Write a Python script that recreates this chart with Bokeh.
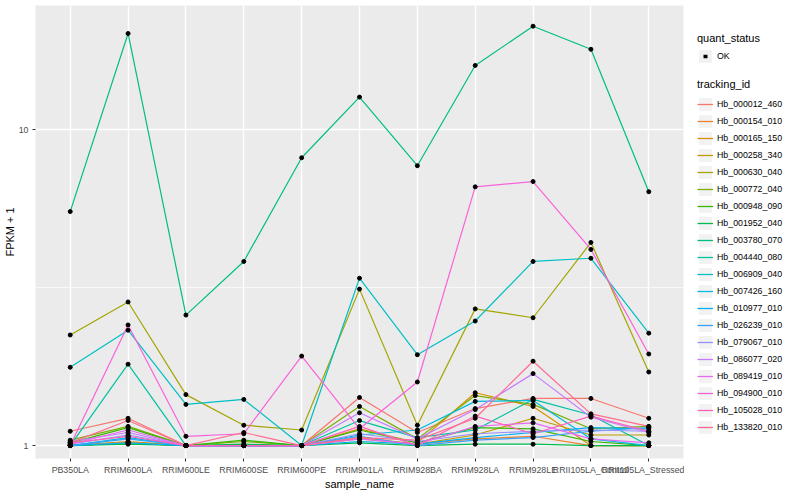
from bokeh.plotting import figure
from bokeh.layouts import row
from bokeh.models import (FactorRange, Range1d, FixedTicker, PrintfTickFormatter,
                          Legend, LegendItem, ColumnDataSource)
from bokeh.embed import file_html
from bokeh.resources import INLINE

samples = ["PB350LA", "RRIM600LA", "RRIM600LE", "RRIM600SE", "RRIM600PE",
           "RRIM901LA", "RRIM928BA", "RRIM928LA", "RRIM928LE",
           "RRII105LA_Control", "RRII105LA_Stressed"]

tracking_ids = ["Hb_000012_460", "Hb_000154_010", "Hb_000165_150", "Hb_000258_340",
                "Hb_000630_040", "Hb_000772_040", "Hb_000948_090", "Hb_001952_040",
                "Hb_003780_070", "Hb_004440_080", "Hb_006909_040", "Hb_007426_160",
                "Hb_010977_010", "Hb_026239_010", "Hb_079067_010", "Hb_086077_020",
                "Hb_089419_010", "Hb_094900_010", "Hb_105028_010", "Hb_133820_010"]

# FPKM + 1 per sample (same order as samples)
hb_000012_460 = [1.11, 1.22, 1.00, 1.00, 1.00, 1.42, 1.10, 1.31, 1.41, 1.41, 1.22]
hb_000154_010 = [1.00, 1.02, 1.00, 1.00, 1.00, 1.05, 1.01, 1.05, 1.07, 1.00, 1.00]
hb_000165_150 = [1.00, 1.03, 1.00, 1.00, 1.00, 1.13, 1.02, 1.47, 1.33, 1.00, 1.00]
hb_000258_340 = [1.00, 1.02, 1.00, 1.00, 1.00, 1.06, 1.01, 1.08, 1.22, 1.08, 1.08]
hb_000630_040 = [2.24, 2.85, 1.45, 1.16, 1.12, 3.13, 1.16, 2.71, 2.54, 4.40, 1.71]
hb_000772_040 = [1.04, 1.15, 1.00, 1.03, 1.00, 1.33, 1.05, 1.44, 1.35, 1.13, 1.15]
hb_000948_090 = [1.02, 1.14, 1.00, 1.04, 1.00, 1.12, 1.02, 1.14, 1.13, 1.03, 1.00]
hb_001952_040 = [1.00, 1.01, 1.00, 1.01, 1.00, 1.02, 1.00, 1.01, 1.01, 1.00, 1.00]
hb_003780_070 = [5.51, 20.2, 2.59, 3.83, 8.16, 12.7, 7.70, 16.0, 21.3, 18.0, 6.37]
hb_004440_080 = [1.00, 1.81, 1.00, 1.00, 1.00, 1.20, 1.06, 1.12, 1.40, 1.25, 1.00]
hb_006909_040 = [1.77, 2.32, 1.35, 1.40, 1.00, 3.39, 1.94, 2.48, 3.83, 3.92, 2.27]
hb_007426_160 = [1.00, 1.06, 1.00, 1.00, 1.00, 1.08, 1.12, 1.38, 1.39, 1.05, 1.00]
hb_010977_010 = [1.00, 1.02, 1.00, 1.00, 1.00, 1.03, 1.01, 1.06, 1.10, 1.14, 1.13]
hb_026239_010 = [1.00, 1.05, 1.00, 1.00, 1.00, 1.07, 1.00, 1.04, 1.06, 1.11, 1.14]
hb_079067_010 = [1.01, 1.08, 1.00, 1.00, 1.00, 1.09, 1.03, 1.09, 1.11, 1.12, 1.11]
hb_086077_020 = [1.03, 1.10, 1.00, 1.00, 1.00, 1.27, 1.05, 1.30, 1.69, 1.23, 1.10]
hb_089419_010 = [1.01, 1.12, 1.00, 1.00, 1.00, 1.05, 1.01, 1.15, 1.18, 1.05, 1.02]
hb_094900_010 = [1.00, 2.41, 1.07, 1.09, 1.92, 1.13, 1.59, 6.60, 6.86, 4.18, 1.95]
hb_105028_010 = [1.02, 1.07, 1.00, 1.00, 1.00, 1.15, 1.00, 1.24, 1.09, 1.24, 1.11]
hb_133820_010 = [1.02, 1.20, 1.00, 1.10, 1.00, 1.06, 1.04, 1.22, 1.85, 1.26, 1.15]

series = [hb_000012_460, hb_000154_010, hb_000165_150, hb_000258_340, hb_000630_040,
          hb_000772_040, hb_000948_090, hb_001952_040, hb_003780_070, hb_004440_080,
          hb_006909_040, hb_007426_160, hb_010977_010, hb_026239_010, hb_079067_010,
          hb_086077_020, hb_089419_010, hb_094900_010, hb_105028_010, hb_133820_010]

colors = ["#F8766D", "#EA8331", "#D89000", "#C09B00", "#A3A500", "#7CAE00", "#39B600",
          "#00BB4E", "#00BF7D", "#00C1A3", "#00BFC4", "#00BAE0", "#00B0F6", "#35A2FF",
          "#9590FF", "#C77CFF", "#E76BF3", "#FA62DB", "#FF62BC", "#FF6C91"]

FONT = "Liberation Sans"

p = figure(width=684, height=492,
           x_range=FactorRange(factors=samples, range_padding=0.1,
                               range_padding_units="absolute"),
           y_range=Range1d(10 ** -0.041, 10 ** 1.394),
           y_axis_type="log", output_backend="svg", toolbar_location=None,
           min_border_left=35, min_border_right=1, min_border_top=5,
           min_border_bottom=33)

p.background_fill_color = "#EBEBEB"
p.border_fill_color = "white"
p.outline_line_color = None

yt = FixedTicker(ticks=[1, 10], minor_ticks=[10 ** 0.5])
p.yaxis.ticker = yt
p.ygrid.ticker = yt
p.yaxis.formatter = PrintfTickFormatter(format="%d")
p.xgrid.grid_line_color = "white"
p.xgrid.grid_line_width = 1.4
p.ygrid.grid_line_color = "white"
p.ygrid.grid_line_width = 1.4
p.ygrid.minor_grid_line_color = "white"
p.ygrid.minor_grid_line_width = 0.7

for ax in (p.xaxis[0], p.yaxis[0]):
    ax.axis_line_color = None
    ax.major_tick_line_color = "#333333"
    ax.major_tick_in = 0
    ax.major_tick_out = 3
    ax.minor_tick_line_color = None
    ax.major_label_text_font = FONT
    ax.major_label_text_font_size = "8.8px"
    ax.major_label_text_color = "#4D4D4D"
    ax.major_label_standoff = 3
    ax.axis_label_text_font = FONT
    ax.axis_label_text_font_size = "11px"
    ax.axis_label_text_font_style = "normal"
    ax.axis_label_text_color = "black"
    ax.axis_label_standoff = 0

p.xaxis.axis_label = "sample_name"
p.yaxis.axis_label = "FPKM + 1"

for tid, vals, col in zip(tracking_ids, series, colors):
    src = ColumnDataSource(dict(x=samples, y=vals))
    p.line("x", "y", source=src, line_color=col, line_width=1.2)

all_x = []
all_y = []
for vals in series:
    all_x.extend(samples)
    all_y.extend(vals)
p.scatter(x=all_x, y=all_y, marker="circle", size=4,
          fill_color="black", line_color="black")

# ---- legend panel (separate figure so the legends are not clipped) ----
lf = figure(width=108, height=492, x_range=Range1d(0, 1), y_range=Range1d(0, 1),
            output_backend="svg", toolbar_location=None,
            x_axis_location=None, y_axis_location=None,
            min_border_left=0, min_border_right=0, min_border_top=0,
            min_border_bottom=0)
lf.outline_line_color = None
lf.grid.visible = False
lf.background_fill_color = "white"
lf.border_fill_color = "white"

# off-screen key glyphs (only drawn inside the legend)
bg = lf.rect(x=[-5], y=[-5], width=[1], height=[1], fill_color="#F2F2F2",
             line_color=None)
# a small centred dot for the point key
key_pts = lf.line(x=[-5, -4], y=[-5, -5], line_color="black", line_width=3.5,
                  line_dash="4 30", line_dash_offset=-6)
key_lines = [lf.line(x=[-5, -4], y=[-5, -5], line_color=c, line_width=1.3)
             for c in colors]


def style_legend(leg):
    leg.padding = 0
    leg.margin = 0
    leg.spacing = 1
    leg.glyph_width = 16
    leg.glyph_height = 16
    leg.label_height = 16
    leg.label_standoff = 4
    leg.label_text_font = FONT
    leg.label_text_font_size = "8.8px"
    leg.label_text_color = "black"
    leg.title_text_font = FONT
    leg.title_text_font_size = "11px"
    leg.title_text_font_style = "normal"
    leg.title_text_color = "black"
    leg.title_standoff = 4
    leg.border_line_color = None
    leg.background_fill_alpha = 0


leg1 = Legend(items=[LegendItem(label="OK", renderers=[bg, key_pts])],
              title="quant_status", location=(13, 394))
style_legend(leg1)

leg2 = Legend(items=[LegendItem(label=t, renderers=[bg, r])
                     for t, r in zip(tracking_ids, key_lines)],
              title="tracking_id", location=(13, 23))
style_legend(leg2)
leg2.title_standoff = 6

lf.add_layout(leg1, "center")
lf.add_layout(leg2, "center")

layout = row(p, lf)
open("out.html", "w").write(file_html(layout, INLINE))
